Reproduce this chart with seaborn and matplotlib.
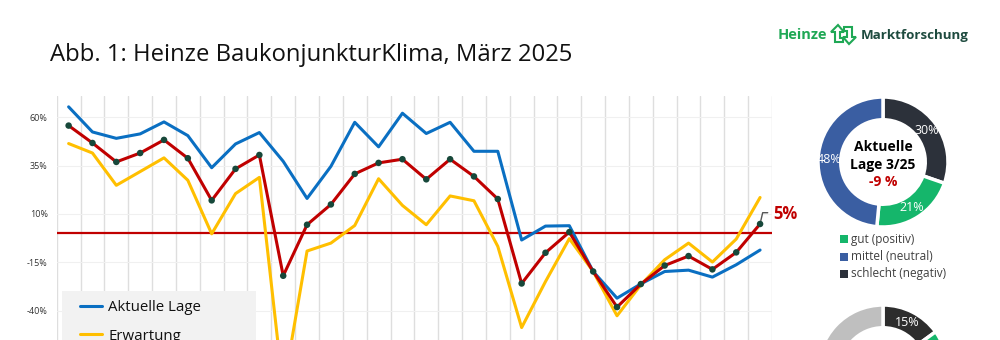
import numpy as np
import pandas as pd
import matplotlib
matplotlib.use("Agg")
import matplotlib.pyplot as plt
import seaborn as sns
from matplotlib.patches import Rectangle, Polygon
from matplotlib.lines import Line2D

# ---------------- data ----------------
periods = list(range(30))
lage = [65.4, 52.4, 49.1, 51.4, 57.6, 50.5, 33.9, 46.2, 52.1, 37.2,
        18.0, 34.6, 57.4, 44.7, 62.1, 51.6, 57.4, 42.4, 42.4, -3.5,
        3.7, 3.9, -19.8, -33.6, -26.2, -19.8, -19.1, -22.7, -16.3, -8.7]
erwartung = [46.4, 41.5, 24.8, 31.9, 39.0, 27.4, -0.3, 20.5, 28.9, -81.0,
             -9.2, -5.1, 4.0, 28.2, 14.4, 4.4, 19.3, 16.8, -6.8, -48.8,
             -25.0, -2.8, -19.8, -42.7, -26.7, -13.7, -5.1, -14.9, -3.0, 18.5]
klima = [55.7, 46.7, 36.9, 41.5, 48.3, 38.8, 17.0, 33.3, 40.5, -22.0,
         4.4, 14.9, 30.7, 36.4, 38.3, 27.9, 38.3, 29.4, 17.7, -26.0,
         -10.1, 0.6, -19.8, -38.2, -26.3, -16.7, -11.8, -18.7, -9.9, 4.8]
series_names = ["Aktuelle Lage", "Erwartung"]
yticks = [60, 35, 10, -15, -40]
last_label = "5%"

lage_shares = [30, 21, 48]      # schlecht, gut, mittel
erw_shares = [15, 33, 52]       # schlecht, gut, mittel
legend_cats = ["gut (positiv)", "mittel (neutral)", "schlecht (negativ)"]

title = "Abb. 1: Heinze BaukonjunkturKlima, März 2025"

# ---------------- style ----------------
sns.set_style("white")
plt.rcParams["font.family"] = ["Open Sans", "DejaVu Sans"]

BLUE = "#0a6fc2"
YELLOW = "#ffbf00"
RED = "#c00000"
DOT = "#17483a"
GREEN = "#15b66b"
col = {"Aktuelle Lage": BLUE, "Erwartung": YELLOW, "Klima": RED}

fig = plt.figure(figsize=(10, 3.4), dpi=100)

def fx(x):
    return x / 1000.0

def fy(y):
    return 1 - y / 340.0

# ---------------- line chart ----------------
ax = fig.add_axes([0.0567, -0.1976, 0.7153, 0.9152])
df = pd.DataFrame({"idx": periods, "Aktuelle Lage": lage,
                   "Erwartung": erwartung, "Klima": klima})
long = df.melt(id_vars="idx", var_name="series", value_name="value")

ax.axhline(0, color=RED, lw=1.6, zorder=1.5)
sns.lineplot(data=long, x="idx", y="value", hue="series",
             hue_order=["Erwartung", "Aktuelle Lage", "Klima"],
             palette=col, lw=2.2, legend=False, ax=ax, sort=False, zorder=3)
sns.scatterplot(x=periods, y=klima, color=DOT, s=22, edgecolor="none",
                ax=ax, zorder=5, legend=False)

ax.set_xlim(-0.5, 29.5)
ax.set_ylim(-90, 71)
ax.set_xticks(np.arange(-0.5, 30, 1))
ax.set_yticks(yticks)
ax.set_yticklabels([f"{v}%" for v in yticks])
ax.tick_params(axis="x", length=0, labelbottom=False)
ax.tick_params(axis="y", length=0, pad=6.5, labelsize=6.5, labelcolor="#333333")
ax.grid(axis="x", color="#dedede", lw=1.0)
ax.grid(axis="y", color="#f0f0f0", lw=0.8)
ax.set_xlabel("")
ax.set_ylabel("")
for s in ax.spines.values():
    s.set_visible(False)

# label of the last Klima value
ax.annotate("", xy=(periods[-1], klima[-1]), xytext=(5.5, 8.1),
            textcoords="offset points",
            arrowprops=dict(arrowstyle="-", color="#555555", lw=1,
                            shrinkA=0, shrinkB=2.5,
                            connectionstyle="angle,angleA=0,angleB=77,rad=0"))
ax.annotate(last_label, xy=(periods[-1], klima[-1]), xytext=(9.2, 7.2),
            textcoords="offset points", ha="left", va="center",
            color=RED, fontsize=12, fontweight="bold")

# legend box (drawn inside the axes, above the grid)
ax.add_patch(Rectangle((fx(62), fy(400)), fx(194), fy(291) - fy(400),
                       transform=fig.transFigure, facecolor="#f2f2f2",
                       edgecolor="none", zorder=6, clip_on=False))
handles = [Line2D([], [], color=BLUE, lw=2.2),
           Line2D([], [], color=YELLOW, lw=2.2)]
leg = ax.legend(handles, series_names, loc="upper left",
                bbox_to_anchor=(fx(80), fy(300)), bbox_transform=fig.transFigure,
                frameon=False, fontsize=10.8, handlelength=1.46,
                handletextpad=0.42, labelspacing=0.9, borderpad=0,
                borderaxespad=0)
leg.set_zorder(7)
for t in leg.get_texts():
    t.set_color("#111111")

# ---------------- donuts ----------------
def donut(cx, cy, shares, colors, visible_labels):
    dax = fig.add_axes([fx(cx - 65), fy(cy + 65), 0.13, 130 / 340])
    _, _, autotexts = dax.pie(shares, colors=colors, startangle=90, counterclock=False,
                              wedgeprops=dict(width=0.35, edgecolor="white", linewidth=2.5),
                              autopct="%.0f%%", pctdistance=0.825,
                              textprops=dict(color="white", fontsize=9))
    for t, vis in zip(autotexts, visible_labels):
        t.set_visible(vis)
    dax.set_xlim(-1, 1)
    dax.set_ylim(-1, 1)
    dax.set_aspect("equal")
    dax.axis("off")
    return dax

d1 = donut(883, 162, lage_shares, ["#2c313a", GREEN, "#3a5ea2"], [True, True, True])
d1.text(0, 0.23, "Aktuelle", ha="center", va="center", fontsize=10,
        fontweight="bold", color="black")
d1.text(0, -0.046, "Lage 3/25", ha="center", va="center", fontsize=10,
        fontweight="bold", color="black")
d1.text(0, -0.31, "-9 %", ha="center", va="center", fontsize=10,
        fontweight="bold", color=RED)

# second donut (only its top edge lies within the picture)
d2 = donut(883, 370, erw_shares, ["#2d2d2d", GREEN, "#bfbfbf"], [True, False, False])

# donut legend
leg_colors = {"gut (positiv)": GREEN, "mittel (neutral)": "#3a5ea2",
              "schlecht (negativ)": "#2c313a"}
for i, name in enumerate(legend_cats):
    yc = 239 + i * 17.5
    fig.patches.append(Rectangle((fx(840), fy(yc + 4)), fx(8), fy(yc - 4) - fy(yc + 4),
                                 transform=fig.transFigure,
                                 facecolor=leg_colors[name], edgecolor="none"))
    fig.text(fx(851), fy(yc), name, ha="left", va="center", fontsize=8.5,
             color="#404040")

# ---------------- title & logo ----------------
fig.text(fx(50), fy(60.7), title, ha="left", va="baseline", fontsize=17.2,
         color="#111111")
fig.text(fx(778), fy(35), "Heinze", ha="left", va="center", fontsize=10.5,
         fontweight="bold", color="#1fa855")
fig.text(fx(861), fy(35), "Marktforschung", ha="left", va="center", fontsize=9.6,
         fontweight="bold", color="#1e4b3f")

def icon_poly(pts):
    xy = [(fx(831 + px), fy(44 - py)) for px, py in pts]
    fig.patches.append(Polygon(xy, closed=True, transform=fig.transFigure,
                               fill=False, edgecolor="#1fa855", lw=1.5))

icon_poly([(7, 19), (0, 12), (4, 12), (4, 2), (12, 2), (12, 6), (9, 6), (9, 12), (13, 12)])
icon_poly([(18, 0), (25, 7), (21, 7), (21, 17), (13, 17), (13, 13), (16, 13), (16, 7), (12, 7)])

fig.savefig("out.png", dpi=100)
